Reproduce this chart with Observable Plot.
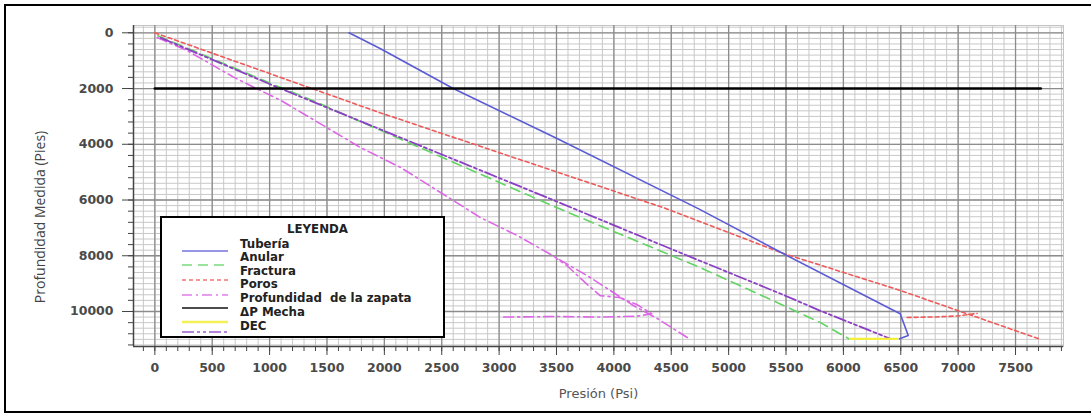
<!DOCTYPE html>
<html>
<head>
<meta charset="utf-8">
<script src="https://cdn.jsdelivr.net/npm/d3@7"></script>
<script src="https://cdn.jsdelivr.net/npm/@observablehq/plot@0.6"></script>
<style>
  html, body { margin: 0; padding: 0; background: #fff; overflow: hidden; }
  #wrap { position: relative; width: 1091px; height: 415px; }
  #border { position: absolute; left: 4px; top: 4px; width: 1110px; height: 409px; box-sizing: border-box; border: 2.5px solid #000; pointer-events: none; }
  #chart { position: absolute; left: 0; top: 0; }
  #legend { position: absolute; left: 160px; top: 216px; width: 285px; height: 122px; box-sizing: border-box; border: 2.7px solid #000; background: #fff; }
  #legend svg { position: absolute; left: 0; top: 0; }
  #legend .t { position: absolute; left: 78px; font: bold 11.8px "DejaVu Sans", sans-serif; color: #222; white-space: pre; line-height: 12px; }
  #legend .h { position: absolute; left: 0; width: 100%; text-align: center; top: 5px; font: bold 11.8px "DejaVu Sans", sans-serif; color: #222; padding-left: 30px; box-sizing: border-box; line-height: 12px; }
  svg [aria-label="x-axis tick label"], svg [aria-label="y-axis tick label"] { font-weight: bold; }
</style>
</head>
<body>
<div id="wrap">
  <div id="chart"></div>
  <div id="legend"></div>
  <div id="border"></div>
</div>
<script>
// ---------- data ----------
const xLabel = "Presión (Psi)";
const yLabel = "Profundidad Medida (Pies)";
const legendTitle = "LEYENDA";
const legendNames = ["Tubería", "Anular", "Fractura", "Poros", "Profundidad  de la zapata", "ΔP Mecha", "DEC"];

const xDomain = [-186, 7918];
const yDomain = [-262, 11256];
const xMajorTicks = [0, 500, 1000, 1500, 2000, 2500, 3000, 3500, 4000, 4500, 5000, 5500, 6000, 6500, 7000, 7500];
const yMajorTicks = [0, 2000, 4000, 6000, 8000, 10000];

// Tubería (blue)
const tuberiaP = [1692, 1967, 2600, 3509, 4735, 5474, 6405, 6495, 6565, 6490];
const tuberiaD = [0, 573, 2000, 3804, 6308, 7921, 9892, 10080, 10860, 10980];
// Anular (green)
const anularP = [26, 1100, 1358, 3500, 4750, 5440, 5800, 6048];
const anularD = [108, 1970, 2400, 6270, 8420, 9710, 10400, 10980];
// Fractura (red)
const fracturaP = [0, 1300, 1950, 4450, 5480, 6500, 7000, 7700];
const fracturaD = [0, 1900, 2850, 6300, 7920, 9250, 9970, 10975];
const fractura2P = [6555, 6800, 7000, 7165];
const fractura2D = [10214, 10195, 10160, 10070];
// Poros (pink)
const porosP = [20, 280, 690, 866, 1100, 1793, 2141, 2837, 3159, 3420, 3794, 4169, 4378, 4639];
const porosD = [170, 635, 1600, 1960, 2430, 4120, 4830, 6630, 7276, 7885, 8781, 9785, 10251, 10932];
const poros2P = [3040, 3500, 3900, 4200, 4330, 4200, 4050, 3880, 3760, 3590, 3500];
const poros2D = [10200, 10180, 10200, 10170, 10080, 9750, 9500, 9430, 9000, 8350, 8100];
// Profundidad de la zapata (black)
const zapataP = [0, 7720];
const zapataD = [2000, 2000];
// ΔP Mecha (yellow)
const mechaP = [6060, 6470];
const mechaD = [10980, 10980];
// DEC (purple)
const decP = [52, 1036, 3420, 4495, 5449, 5800, 6410];
const decD = [180, 1900, 5914, 7750, 9355, 9975, 10980];

// ---------- build ----------
const pts = (P, D) => P.map((p, i) => ({p, d: D[i]}));
const xMinor = d3.range(-100, xDomain[1], 100);
const yMinorGrid = d3.range(-200, yDomain[1], 200);
const yMinorTicks = d3.range(0, yDomain[1], 400);

const styles = {
  tuberia: {stroke: "#5b5bd6", strokeWidth: 1.6},
  anular: {stroke: "#62d462", strokeWidth: 1.6, strokeDasharray: "10,6"},
  fractura: {stroke: "#ee5a5a", strokeWidth: 1.6, strokeDasharray: "4,3"},
  poros: {stroke: "#dd66e6", strokeWidth: 1.6, strokeDasharray: "10,4,2,4"},
  zapata: {stroke: "#000", strokeWidth: 2.6},
  mecha: {stroke: "#f2ee3a", strokeWidth: 2.2},
  dec: {stroke: "#8b3fc4", strokeWidth: 1.8, strokeDasharray: "12,3,3,3,3,3"}
};

const line = (P, D, s) => Plot.line(pts(P, D), {x: "p", y: "d", curve: "linear", ...s});

const chart = Plot.plot({
  width: 1091,
  height: 415,
  marginLeft: 133,
  marginRight: 28,
  marginTop: 25,
  marginBottom: 69,
  style: {fontFamily: "DejaVu Sans, sans-serif", background: "transparent"},
  x: {domain: xDomain, label: null},
  y: {domain: yDomain, reverse: true, label: null},
  marks: [
    Plot.frame({stroke: "#c4c4c4"}),
    Plot.gridX(xMinor, {stroke: "#c8c8c8", strokeOpacity: 1, strokeWidth: 1}),
    Plot.gridY(yMinorGrid, {stroke: "#c8c8c8", strokeOpacity: 1, strokeWidth: 1}),
    Plot.gridX(xMajorTicks, {stroke: "#8c8c8c", strokeOpacity: 1, strokeWidth: 1.3}),
    Plot.gridY(yMajorTicks, {stroke: "#8c8c8c", strokeOpacity: 1, strokeWidth: 1.3}),
    Plot.ruleX([xDomain[0]], {stroke: "#444", strokeWidth: 1.5}),
    Plot.ruleY([yDomain[1]], {stroke: "#444", strokeWidth: 1.5}),
    Plot.axisX(xMinor, {tickSize: 5, tickFormat: () => "", stroke: "#444", label: null}),
    Plot.axisX(xMajorTicks, {tickSize: 9, tickPadding: 8, tickFormat: d => String(d), stroke: "#444", fill: "#4a4a4a", fontSize: 12.5, fontWeight: "bold", label: null}),
    Plot.axisY(yMinorTicks, {tickSize: 5, tickFormat: () => "", stroke: "#444", label: null}),
    Plot.axisY(yMajorTicks, {tickSize: 11, tickPadding: 9, tickFormat: d => String(d), stroke: "#444", fill: "#4a4a4a", fontSize: 12.5, fontWeight: "bold", label: null}),
    line(porosP, porosD, styles.poros),
    line(poros2P, poros2D, styles.poros),
    line(anularP, anularD, styles.anular),
    line(decP, decD, styles.dec),
    line(fracturaP, fracturaD, styles.fractura),
    line(fractura2P, fractura2D, styles.fractura),
    line(tuberiaP, tuberiaD, styles.tuberia),
    line(mechaP, mechaD, styles.mecha),
    line(zapataP, zapataD, styles.zapata),
    Plot.text([xLabel], {frameAnchor: "bottom", dy: 47, textAnchor: "middle", lineAnchor: "middle", fontSize: 13, fill: "#555", fontFamily: "DejaVu Sans, sans-serif"}),
    Plot.text([yLabel], {frameAnchor: "left", dx: -93, dy: 31, rotate: -90, textAnchor: "middle", lineAnchor: "middle", fontSize: 14, fill: "#444", fontFamily: "Open Sans, sans-serif"})
  ]
});
document.getElementById("chart").appendChild(chart);

// ---------- legend ----------
const leg = document.getElementById("legend");
const ns = "http://www.w3.org/2000/svg";
const lsvg = document.createElementNS(ns, "svg");
lsvg.setAttribute("width", 280);
lsvg.setAttribute("height", 118);
// line samples: drawn one row below each label as in the original
const sampleOrder = ["tuberia", "anular", "fractura", "poros", "zapata", "mecha", "dec"];
const sampleY = [33, 47, 62, 77, 90, 104, 114];
const sampleW = {zapata: 1.8, mecha: 2.5};
sampleOrder.forEach((k, i) => {
  const l = document.createElementNS(ns, "line");
  l.setAttribute("x1", 20); l.setAttribute("x2", 66);
  l.setAttribute("y1", sampleY[i]); l.setAttribute("y2", sampleY[i]);
  l.setAttribute("stroke", styles[k].stroke);
  l.setAttribute("stroke-width", sampleW[k] || 1.3);
  l.setAttribute("stroke-opacity", k === "zapata" ? 0.7 : 0.85);
  if (styles[k].strokeDasharray) l.setAttribute("stroke-dasharray", styles[k].strokeDasharray);
  lsvg.appendChild(l);
});
leg.appendChild(lsvg);
const h = document.createElement("div");
h.className = "h"; h.textContent = legendTitle;
leg.appendChild(h);
const rowTop = [20, 33, 47, 60, 74, 88, 102];
legendNames.forEach((n, i) => {
  const d = document.createElement("div");
  d.className = "t"; d.textContent = n; d.style.top = rowTop[i] + "px";
  leg.appendChild(d);
});
</script>
</body>
</html>
